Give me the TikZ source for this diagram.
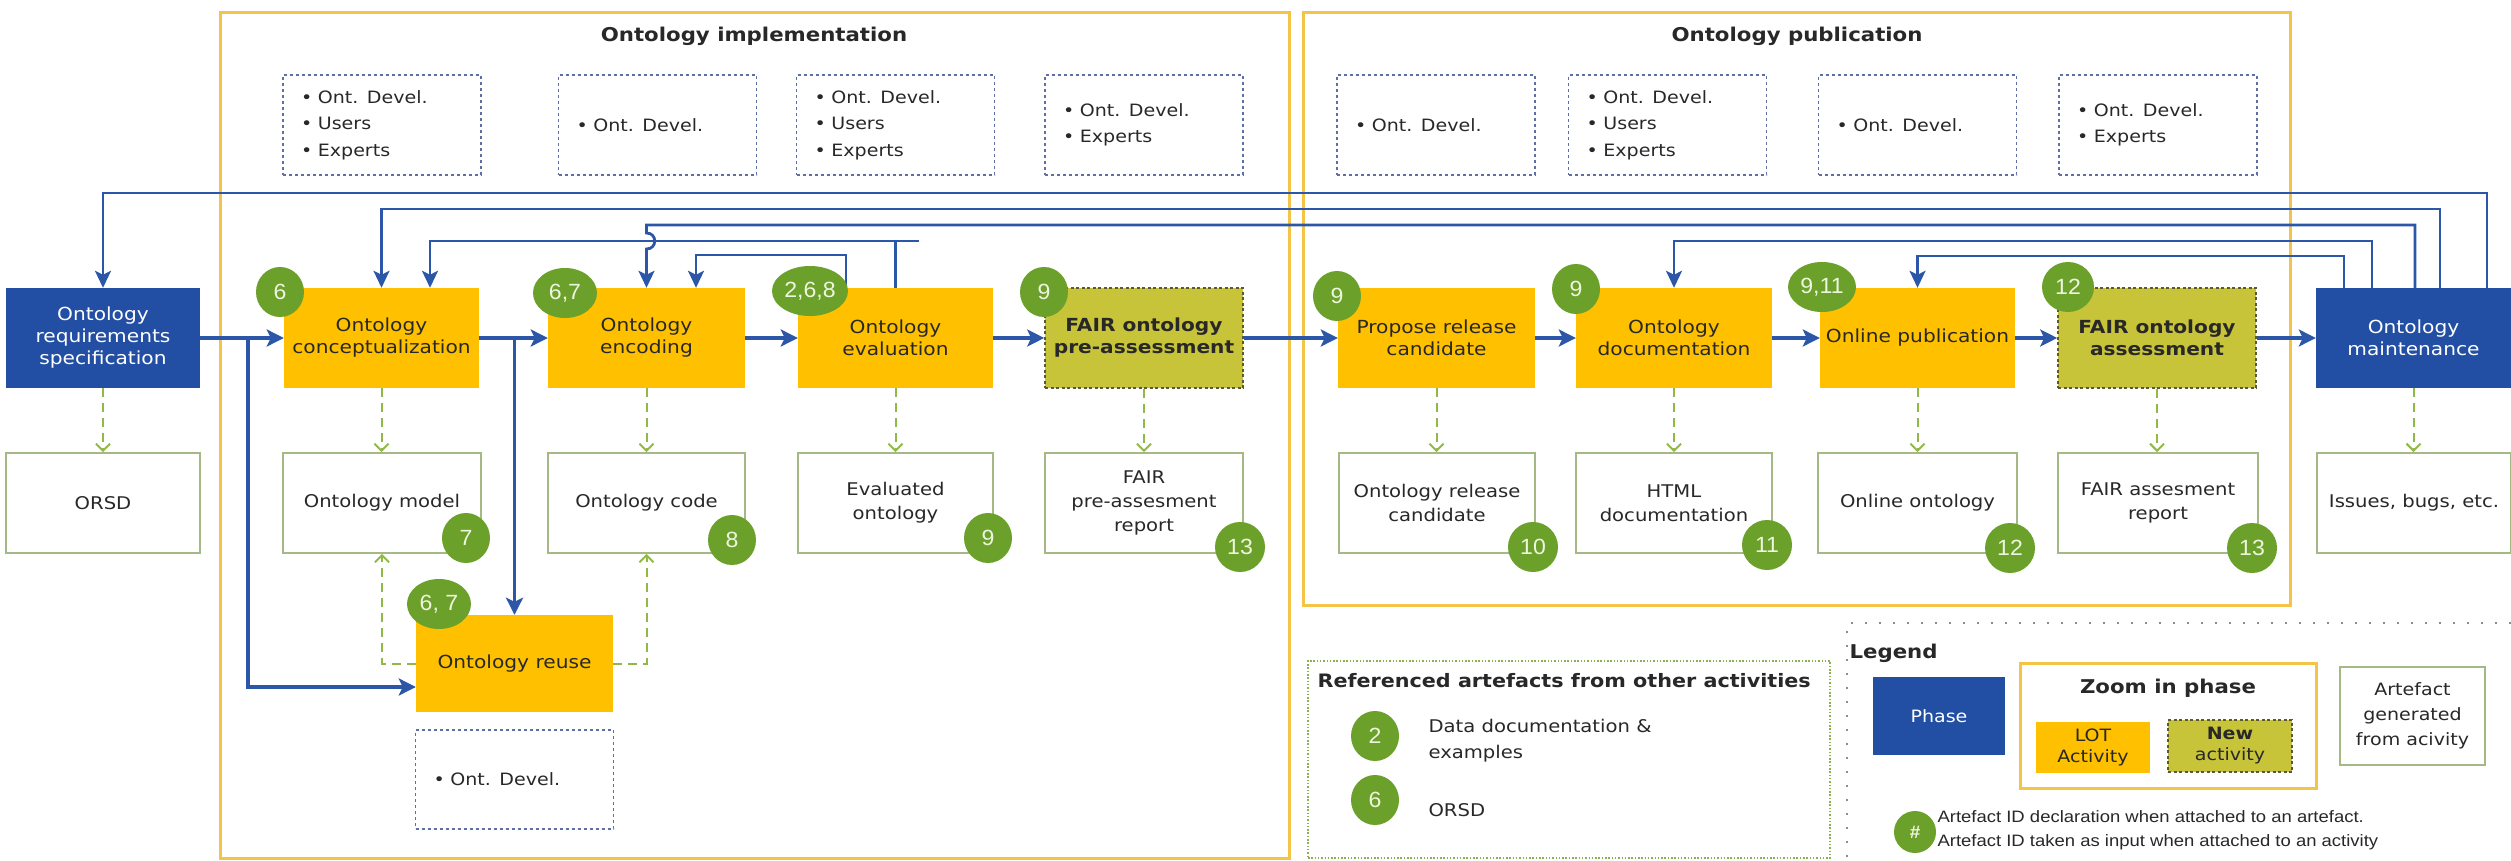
\documentclass[tikz,border=0pt]{standalone}
\usepackage{fontspec}
\setmainfont{DejaVu Sans}[FakeStretch=1.12]
\newfontfamily\badgefont{Liberation Sans}[FakeStretch=1.05]
\newfontfamily\legfont{Liberation Sans}[FakeStretch=1.12]
\usetikzlibrary{arrows.meta,shapes.geometric,calc}
\newcommand{\myfs}[2]{\fontsize{#1}{#2}\selectfont}
\definecolor{phaseblue}{RGB}{34,79,163}
\definecolor{arrowblue}{RGB}{44,86,168}
\definecolor{lotorange}{RGB}{255,192,0}
\definecolor{newolive}{RGB}{200,196,58}
\definecolor{olivedash}{RGB}{90,90,50}
\definecolor{badgegreen}{RGB}{107,160,43}
\definecolor{badgetext}{RGB}{238,246,222}
\definecolor{artborder}{RGB}{165,185,135}
\definecolor{frameyellow}{RGB}{244,196,72}
\definecolor{roleborder}{RGB}{95,110,165}
\definecolor{dashgreen}{RGB}{145,185,70}
\definecolor{refborder}{RGB}{140,175,80}
\definecolor{leggray}{RGB}{140,140,140}
\definecolor{txtdark}{RGB}{40,40,40}
\begin{document}
\begin{tikzpicture}[x=1pt,y=-1pt,
  basebox/.style={inner sep=2pt, align=center, minimum height=100pt, font=\myfs{18}{22}, text=txtdark},
  actbox/.style={basebox, fill=lotorange},
  newbox/.style={basebox, fill=newolive, draw=olivedash, line width=1.6pt, dash pattern=on 3pt off 2.5pt, font=\bfseries\myfs{18}{22}},
  phasebox/.style={basebox, fill=phaseblue, text=white},
  artbox/.style={basebox, fill=white, draw=artborder, line width=1.8pt, font=\myfs{17.5}{24}},
  rolebox/.style={draw=roleborder, line width=1.3pt, dash pattern=on 3pt off 3pt, minimum height=100pt, inner xsep=18pt, text width=162pt, align=left, font=\myfs{17}{26.5}, text=txtdark},
  badgenode/.style={ellipse, fill=badgegreen, text=badgetext, inner sep=0pt, minimum width=48pt, minimum height=50pt, font=\badgefont\myfs{22}{24}},
  framebox/.style={draw=frameyellow, line width=3pt},
  ttlnode/.style={font=\bfseries\myfs{19}{22}, text=txtdark},
  flowarrow/.style={draw=arrowblue, line width=3.4pt, -{Stealth[length=17pt,width=17pt,inset=4pt]}},
  fbarrow/.style={draw=arrowblue, line width=2.8pt, -{Stealth[length=17pt,width=16pt,inset=4pt]}},
  fbline/.style={draw=arrowblue, line width=2.8pt},
  gdash/.style={draw=dashgreen, line width=2pt, dash pattern=on 9pt off 6pt, -{Straight Barb[length=7pt,width=14pt]}},
  refbox/.style={draw=refborder, line width=1.6pt, dash pattern=on 1.5pt off 1.8pt},
  legline/.style={draw=leggray, line width=2pt, dash pattern=on 2pt off 12pt}
]
\useasboundingbox (0,0) rectangle (2511,861);
\fill[white] (0,0) rectangle (2511,861);

% phase frames
\draw[framebox] (220,13) rectangle (1289,858);
\draw[framebox] (1303,13) rectangle (2290,605);
\node[ttlnode] (impltitle) at (754,36) {Ontology implementation};
\node[ttlnode] (pubtitle) at (1797,36) {Ontology publication};

% role boxes
\node[rolebox] (r1) at (382,125) {\textbullet\ Ont. Devel.\\\textbullet\ Users\\\textbullet\ Experts};
\node[rolebox] (r2) at (657.5,125) {\textbullet\ Ont. Devel.};
\node[rolebox] (r3) at (895.5,125) {\textbullet\ Ont. Devel.\\\textbullet\ Users\\\textbullet\ Experts};
\node[rolebox] (r4) at (1144,125) {\textbullet\ Ont. Devel.\\\textbullet\ Experts};
\node[rolebox] (r5) at (1436,125) {\textbullet\ Ont. Devel.};
\node[rolebox] (r6) at (1667.5,125) {\textbullet\ Ont. Devel.\\\textbullet\ Users\\\textbullet\ Experts};
\node[rolebox] (r7) at (1917.5,125) {\textbullet\ Ont. Devel.};
\node[rolebox] (r8) at (2158,125) {\textbullet\ Ont. Devel.\\\textbullet\ Experts};

% activities
\node[phasebox, minimum width=194pt] (ors) at (103,338) {Ontology\\requirements\\specification};
\node[actbox, minimum width=195pt] (concept) at (381.5,338) {Ontology\\conceptualization};
\node[actbox, minimum width=197pt] (encoding) at (646.5,338) {Ontology\\encoding};
\node[actbox, minimum width=195pt] (evaluation) at (895.5,338) {Ontology\\evaluation};
\node[newbox, minimum width=198pt] (fairpre) at (1144,338) {FAIR ontology\\pre-assessment};
\node[actbox, minimum width=197pt] (propose) at (1436.5,338) {Propose release\\candidate};
\node[actbox, minimum width=196pt] (doc) at (1674,338) {Ontology\\documentation};
\node[actbox, minimum width=195pt] (online) at (1917.5,338) {Online publication};
\node[newbox, minimum width=198pt] (fairass) at (2157,338) {FAIR ontology\\assessment};
\node[phasebox, minimum width=195pt] (maint) at (2413.5,338) {Ontology\\maintenance};

% artefacts
\node[artbox, minimum width=194pt] (orsd) at (103,503) {ORSD};
\node[artbox, minimum width=198pt] (model) at (382,503) {Ontology model};
\node[artbox, minimum width=197pt] (code) at (646.5,503) {Ontology code};
\node[artbox, minimum width=195pt] (evald) at (895.5,503) {Evaluated\\ontology};
\node[artbox, minimum width=198pt] (fairprerep) at (1144,503) {FAIR\\pre-assesment\\report};
\node[artbox, minimum width=196pt] (relcand) at (1437,503) {Ontology release\\candidate};
\node[artbox, minimum width=196pt] (htmldoc) at (1674,503) {HTML\\documentation};
\node[artbox, minimum width=199pt] (onlineont) at (1917.5,503) {Online ontology};
\node[artbox, minimum width=200pt] (fairassrep) at (2158,503) {FAIR assesment\\report};
\node[artbox, minimum width=194pt] (issues) at (2414,503) {Issues, bugs, etc.};

% reuse
\node[actbox, minimum width=197pt, minimum height=97pt] (reuse) at (514.5,663.5) {Ontology reuse};
\node[rolebox, minimum height=99pt] (rreuse) at (514.5,779.5) {\textbullet\ Ont. Devel.};

% main flow
\foreach \a/\b in {ors/concept,concept/encoding,encoding/evaluation,evaluation/fairpre,fairpre/propose,propose/doc,doc/online,online/fairass,fairass/maint}
  \draw[flowarrow] (\a.east) -- (\b.west);
\draw[flowarrow] ($(ors.east)!0.57!(concept.west)$) |- ([yshift=-23.5pt]reuse.west);
\draw[flowarrow] (reuse.north |- concept.east) -- (reuse.north);

% artefact generation
\foreach \a/\b in {ors/orsd,concept/model,encoding/code,evaluation/evald,fairpre/fairprerep,propose/relcand,doc/htmldoc,online/onlineont,fairass/fairassrep,maint/issues}
  \draw[gdash] (\a.south) -- (\a.south |- \b.north);
\draw[gdash] (reuse.west) -| (model.south);
\draw[gdash] (reuse.east) -| (code.south);

% feedback levels
\coordinate (y193) at (0,193);
\coordinate (y209) at (0,209);
\coordinate (y225) at (0,225);
\coordinate (y233) at (0,233);
\coordinate (y241) at (0,241);
\coordinate (y249) at (0,249);
\coordinate (y255) at (0,255);
\coordinate (y256) at (0,256);
\coordinate (m1) at ([xshift=73.5pt]maint.north);
\coordinate (m2) at ([xshift=26.5pt]maint.north);
\coordinate (m3) at ([xshift=1.5pt]maint.north);
\coordinate (m4) at ([xshift=-41.5pt]maint.north);
\coordinate (m5) at ([xshift=-69.5pt]maint.north);
\coordinate (c2) at ([xshift=48.5pt]concept.north);
\coordinate (en2) at ([xshift=49.5pt]encoding.north);
\coordinate (ev2) at ([xshift=-49.5pt]evaluation.north);

\draw[fbarrow] (m1) |- (ors.north |- y193) -- (ors.north);
\draw[fbarrow] (m2) |- (concept.north |- y209) -- (concept.north);
\draw[fbarrow] (evaluation.north) |- (c2 |- y241) -- (c2);
\draw[fbline] (evaluation.north |- y241) -- ++(23,0);
\draw[fbarrow] (m3) |- (encoding.north |- y225) -- (encoding.north |- y233) .. controls +(11,0) and +(11,0) .. (encoding.north |- y249) -- (encoding.north);
\draw[fbarrow] (ev2) |- (en2 |- y255) -- (en2);
\draw[fbarrow] (m4) |- (doc.north |- y241) -- (doc.north);
\draw[fbarrow] (m5) |- (online.north |- y256) -- (online.north);

% badges on activities
\node[badgenode] (bconcept) at (280,292) {6};
\node[badgenode, minimum width=64pt] (bencoding) at (565,293) {6,7};
\node[badgenode, minimum width=76pt] (beval) at (810,291) {2,6,8};
\node[badgenode] (bfairpre) at (1044,292) {9};
\node[badgenode] (bpropose) at (1337,296) {9};
\node[badgenode] (bdoc) at (1576,289) {9};
\node[badgenode, minimum width=68pt] (bonline) at (1822,287) {9,11};
\node[badgenode, minimum width=52pt] (bfairass) at (2068,287) {12};
\node[badgenode, minimum width=64pt] (breuse) at (439,604) {6, 7};
% badges on artefacts
\node[badgenode] (bmodel) at (466,538) {7};
\node[badgenode] (bcode) at (732,540) {8};
\node[badgenode] (bevald) at (988,538) {9};
\node[badgenode, minimum width=50pt] (bfairprerep) at (1240,547) {13};
\node[badgenode, minimum width=50pt] (brelcand) at (1533,547) {10};
\node[badgenode, minimum width=50pt] (bhtmldoc) at (1767,545) {11};
\node[badgenode, minimum width=50pt] (bonlineont) at (2010,548) {12};
\node[badgenode, minimum width=50pt] (bfairassrep) at (2252,548) {13};

% referenced artefacts
\node[refbox, minimum width=522pt, minimum height=197pt] (refbx) at (1569,759.5) {};
\node[anchor=west, font=\bfseries\myfs{18.5}{22}, text=txtdark] (reftitle) at (1314,681) {Referenced artefacts from other activities};
\node[badgenode] (ref2) at (1375,736) {2};
\node[anchor=west, align=left, font=\myfs{17.5}{26}, text=txtdark] (ref2t) at (1425,741) {Data documentation \&\\examples};
\node[badgenode] (ref6) at (1375,800) {6};
\node[anchor=west, font=\myfs{17.5}{22}, text=txtdark] (ref6t) at (1425,810) {ORSD};

% legend
\draw[legline] (2511,623) -| (1847,861);
\node[anchor=west, font=\bfseries\myfs{19}{22}, text=txtdark] (legtitle) at (1846,653) {Legend};
\node[phasebox, minimum width=132pt, minimum height=78pt, font=\myfs{17}{21}] (legphase) at (1939,716) {Phase};
\node[framebox, minimum width=296pt, minimum height=125pt] (legzoom) at (2168,725.5) {};
\node[font=\bfseries\myfs{19}{22}, text=txtdark] (legzoomt) at (2168,688) {Zoom in phase};
\node[actbox, minimum width=114pt, minimum height=51pt, font=\myfs{17}{21}] (leglot) at (2093,747.5) {LOT\\Activity};
\node[newbox, minimum width=124pt, minimum height=52pt, font=\myfs{17}{21}] (legnew) at (2230,746) {\textbf{New}\\activity};
\node[artbox, minimum width=145pt, minimum height=98pt, font=\myfs{17}{25}] (legart) at (2412.5,716) {Artefact\\generated\\from acivity};
\node[badgenode, minimum width=42pt, minimum height=42pt, font=\badgefont\bfseries\myfs{18}{20}] (leghash) at (1915,832) {\#};
\node[anchor=west, align=left, font=\legfont\myfs{16.5}{24}, text=txtdark] (leghtxt) at (1934,830) {Artefact ID declaration when attached to an artefact.\\Artefact ID taken as input when attached to an activity};
\end{tikzpicture}
\end{document}
